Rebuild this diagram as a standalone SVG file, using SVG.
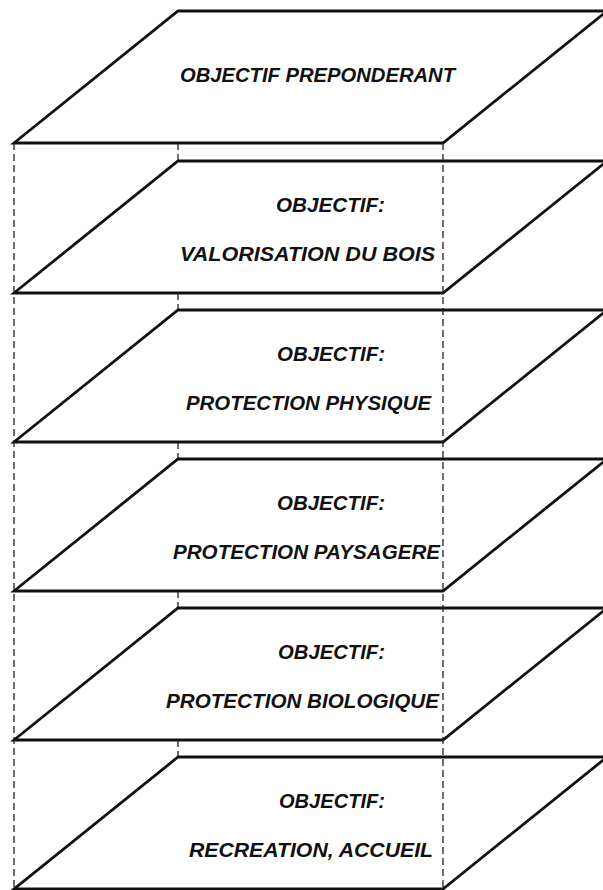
<svg xmlns="http://www.w3.org/2000/svg" width="603" height="890" viewBox="0 0 603 890">
<style>
.plane{fill:#fff;stroke:#111;stroke-width:2.8;stroke-linejoin:miter}
.dash{stroke:#222;stroke-width:1.3;stroke-dasharray:7 4;fill:none}
.t{font-family:"Liberation Sans",Arial,sans-serif;font-weight:bold;font-style:italic;font-size:20px;fill:#111}
</style>
<rect width="603" height="890" fill="#fff"/>
<g id="connectors-back">
<line class="dash" x1="14" y1="143" x2="14" y2="890"/>
<line class="dash" x1="178" y1="143" x2="178" y2="161"/>
<line class="dash" x1="178" y1="293" x2="178" y2="310"/>
<line class="dash" x1="178" y1="442" x2="178" y2="459"/>
<line class="dash" x1="178" y1="591" x2="178" y2="608"/>
<line class="dash" x1="178" y1="740" x2="178" y2="757"/>
</g>
<g id="plane1">
<polygon class="plane" points="14,143 443,143 607,11 178,11"/>
<text class="t" x="180" y="82" textLength="275" lengthAdjust="spacingAndGlyphs">OBJECTIF PREPONDERANT</text>
</g>
<g id="plane2">
<polygon class="plane" points="14,293 443,293 607,161 178,161"/>
<text class="t" x="276" y="212" textLength="109" lengthAdjust="spacingAndGlyphs">OBJECTIF:</text>
<text class="t" x="180" y="261" textLength="255" lengthAdjust="spacingAndGlyphs">VALORISATION DU BOIS</text>
</g>
<g id="plane3">
<polygon class="plane" points="14,442 443,442 607,310 178,310"/>
<text class="t" x="277" y="361" textLength="108" lengthAdjust="spacingAndGlyphs">OBJECTIF:</text>
<text class="t" x="186" y="410" textLength="245" lengthAdjust="spacingAndGlyphs">PROTECTION PHYSIQUE</text>
</g>
<g id="plane4">
<polygon class="plane" points="14,591 443,591 607,459 178,459"/>
<text class="t" x="277" y="510" textLength="108" lengthAdjust="spacingAndGlyphs">OBJECTIF:</text>
<text class="t" x="173" y="559" textLength="267" lengthAdjust="spacingAndGlyphs">PROTECTION PAYSAGERE</text>
</g>
<g id="plane5">
<polygon class="plane" points="14,740 443,740 607,608 178,608"/>
<text class="t" x="278" y="659" textLength="107" lengthAdjust="spacingAndGlyphs">OBJECTIF:</text>
<text class="t" x="166" y="708" textLength="273" lengthAdjust="spacingAndGlyphs">PROTECTION BIOLOGIQUE</text>
</g>
<g id="plane6">
<polygon class="plane" points="14,889 443,889 607,757 178,757"/>
<text class="t" x="279" y="808" textLength="106" lengthAdjust="spacingAndGlyphs">OBJECTIF:</text>
<text class="t" x="189" y="857" textLength="244" lengthAdjust="spacingAndGlyphs">RECREATION, ACCUEIL</text>
</g>
<g id="connectors-front">
<line class="dash" x1="443" y1="143" x2="443" y2="890"/>
</g>
</svg>
